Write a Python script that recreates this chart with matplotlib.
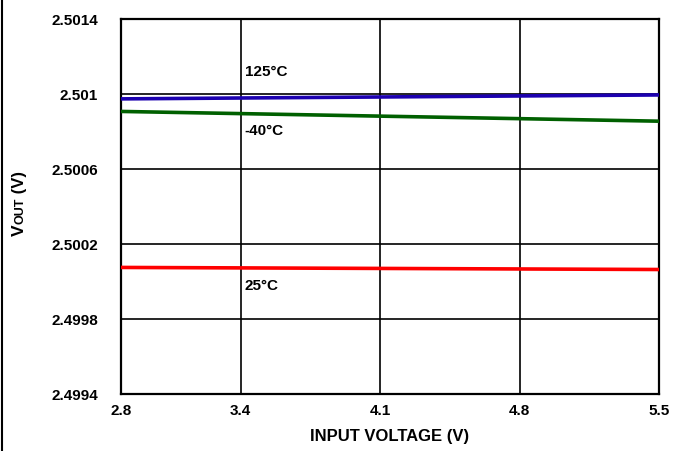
import matplotlib
matplotlib.use("Agg")
import matplotlib.pyplot as plt
from matplotlib.lines import Line2D

plt.rcParams['font.family'] = ['Liberation Sans', 'DejaVu Sans']

# Data
input_voltage = [2.8, 5.5]
vout_125 = [2.500974, 2.500995]
vout_m40 = [2.500907, 2.500855]
vout_25 = [2.500075, 2.500064]
series_labels = ["125°C", "-40°C", "25°C"]
x_ticks = [2.8, 3.4, 4.1, 4.8, 5.5]
y_ticks = [2.4994, 2.4998, 2.5002, 2.5006, 2.501, 2.5014]
y_tick_labels = ["2.4994", "2.4998", "2.5002", "2.5006", "2.501", "2.5014"]

W, H = 680, 452
fig = plt.figure(figsize=(W / 100, H / 100), dpi=100)
ax = fig.add_axes([121 / W, 1 - 395 / H, (659 - 121) / W, (395 - 20) / H])

ax.plot(input_voltage, vout_125, color="#1c00b0", lw=2.6, solid_capstyle="butt", zorder=3)
ax.plot(input_voltage, vout_m40, color="#006000", lw=2.6, solid_capstyle="butt", zorder=3)
ax.plot(input_voltage, vout_25, color="#ff0000", lw=2.6, solid_capstyle="butt", zorder=3)

ax.set_xlim(2.8, 5.5)
ax.set_ylim(2.4994, 2.5014)
ax.set_xticks(x_ticks)
ax.set_xticklabels([f"{v:.1f}" for v in x_ticks])
ax.set_yticks(y_ticks)
ax.set_yticklabels(y_tick_labels)
ax.tick_params(length=0, labelsize=11)
for lab in ax.get_xticklabels() + ax.get_yticklabels():
    lab.set_fontweight("bold")
ax.tick_params(axis="y", pad=16.5)
ax.tick_params(axis="x", pad=6.5)

ax.grid(True, color="black", lw=1.2, zorder=1)
for s in ax.spines.values():
    s.set_linewidth(1.6)
    s.set_color("black")

ax.set_xlabel("INPUT VOLTAGE (V)", fontsize=12, fontweight="bold", labelpad=8)

# Series labels
lbl_x = 3.42
ax.text(lbl_x, 2.501122, series_labels[0], fontsize=11, fontweight="bold", va="center", ha="left")
ax.text(lbl_x, 2.500808, series_labels[1], fontsize=11, fontweight="bold", va="center", ha="left")
ax.text(lbl_x, 2.49998, series_labels[2], fontsize=11, fontweight="bold", va="center", ha="left")

# Y label: V + small caps OUT + (V)
xb = 24 / W
y0 = 1 - 236 / H
t1 = fig.text(xb, y0, "V", rotation=90, rotation_mode="anchor", ha="left", va="baseline",
              fontsize=12.5, fontweight="bold")
fig.canvas.draw()
r = fig.canvas.get_renderer()
h1 = t1.get_window_extent(r).height / H
t2 = fig.text(xb, y0 + h1, "OUT", rotation=90, rotation_mode="anchor", ha="left", va="baseline",
              fontsize=9, fontweight="bold")
fig.canvas.draw()
h2 = t2.get_window_extent(r).height / H
fig.text(xb, y0 + h1 + h2, " (V)", rotation=90, rotation_mode="anchor", ha="left", va="baseline",
         fontsize=12, fontweight="bold")

# left border line
fig.add_artist(Line2D([2 / W, 2 / W], [0, 1], transform=fig.transFigure, color="black", lw=1.5))

fig.savefig("out.png", dpi=100)
